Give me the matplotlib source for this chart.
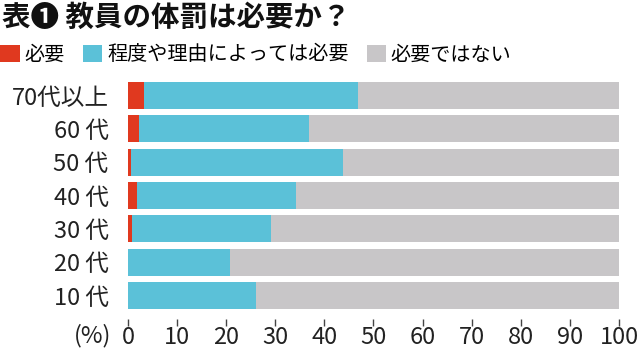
import numpy as np
import matplotlib.pyplot as plt

plt.rcParams['font.family'] = ['Noto Sans CJK JP', 'DejaVu Sans']

# 年代（上から順）
ages = ["70代以上", "60 代", "50 代", "40 代", "30 代", "20 代", "10 代"]
need = [3.2, 2.2, 0.7, 1.8, 0.8, 0.0, 0.0]          # 必要
depends = [43.6, 34.6, 43.1, 32.5, 28.4, 20.7, 26.1]  # 程度や理由によっては必要
no_need = [53.2, 63.2, 56.2, 65.7, 70.8, 79.3, 73.9]  # 必要ではない
xticks = list(range(0, 101, 10))

c_red = "#e0391f"
c_cyan = "#5bc1d8"
c_gray = "#c8c6c8"

fig = plt.figure(figsize=(6.39, 3.5), dpi=100)
ax = fig.add_axes([0.2003, 0.1171, 0.7684, 0.6486])

# spine位置を先に決める（後で変えるとtickがリセットされる）
for s in ax.spines.values():
    s.set_visible(False)
ax.spines["bottom"].set_position(("outward", 7))

y = np.arange(len(ages))
left2 = np.array(need)
left3 = left2 + np.array(depends)
h = 0.81
b1 = ax.barh(y, need, height=h, color=c_red, label="必要")
b2 = ax.barh(y, depends, left=left2, height=h, color=c_cyan, label="程度や理由によっては必要")
b3 = ax.barh(y, no_need, left=left3, height=h, color=c_gray, label="必要ではない")

ax.set_xlim(0, 100)
ax.set_ylim(len(ages) - 1 + 0.405, -0.405)
ax.set_yticks(y)
ax.set_yticklabels(ages)
ax.set_xticks(xticks)
ax.set_xticklabels([str(v) for v in xticks])
ax.tick_params(axis="y", length=0, pad=14, labelsize=17, labelcolor="#222222")
ax.tick_params(axis="x", length=5, width=1, color="#444444", pad=0.5,
               labelsize=17, labelcolor="#222222")
ax.text(-0.035, -0.118, "(%)", transform=ax.transAxes, ha="right", va="center",
        fontsize=17, color="#222222")

fig.text(0.003, 0.948, "表❶ 教員の体罰は必要か？", fontsize=20.5, fontweight="bold",
         ha="left", va="center", color="#111111")

fig.legend(handles=[b1, b2, b3], loc="center left", bbox_to_anchor=(-0.012, 0.843),
           ncol=3, frameon=False, fontsize=14.5, handlelength=0.95, handleheight=0.95,
           handletextpad=0.25, columnspacing=0.9, borderaxespad=0)

fig.savefig("out.png", dpi=100, facecolor="white")
